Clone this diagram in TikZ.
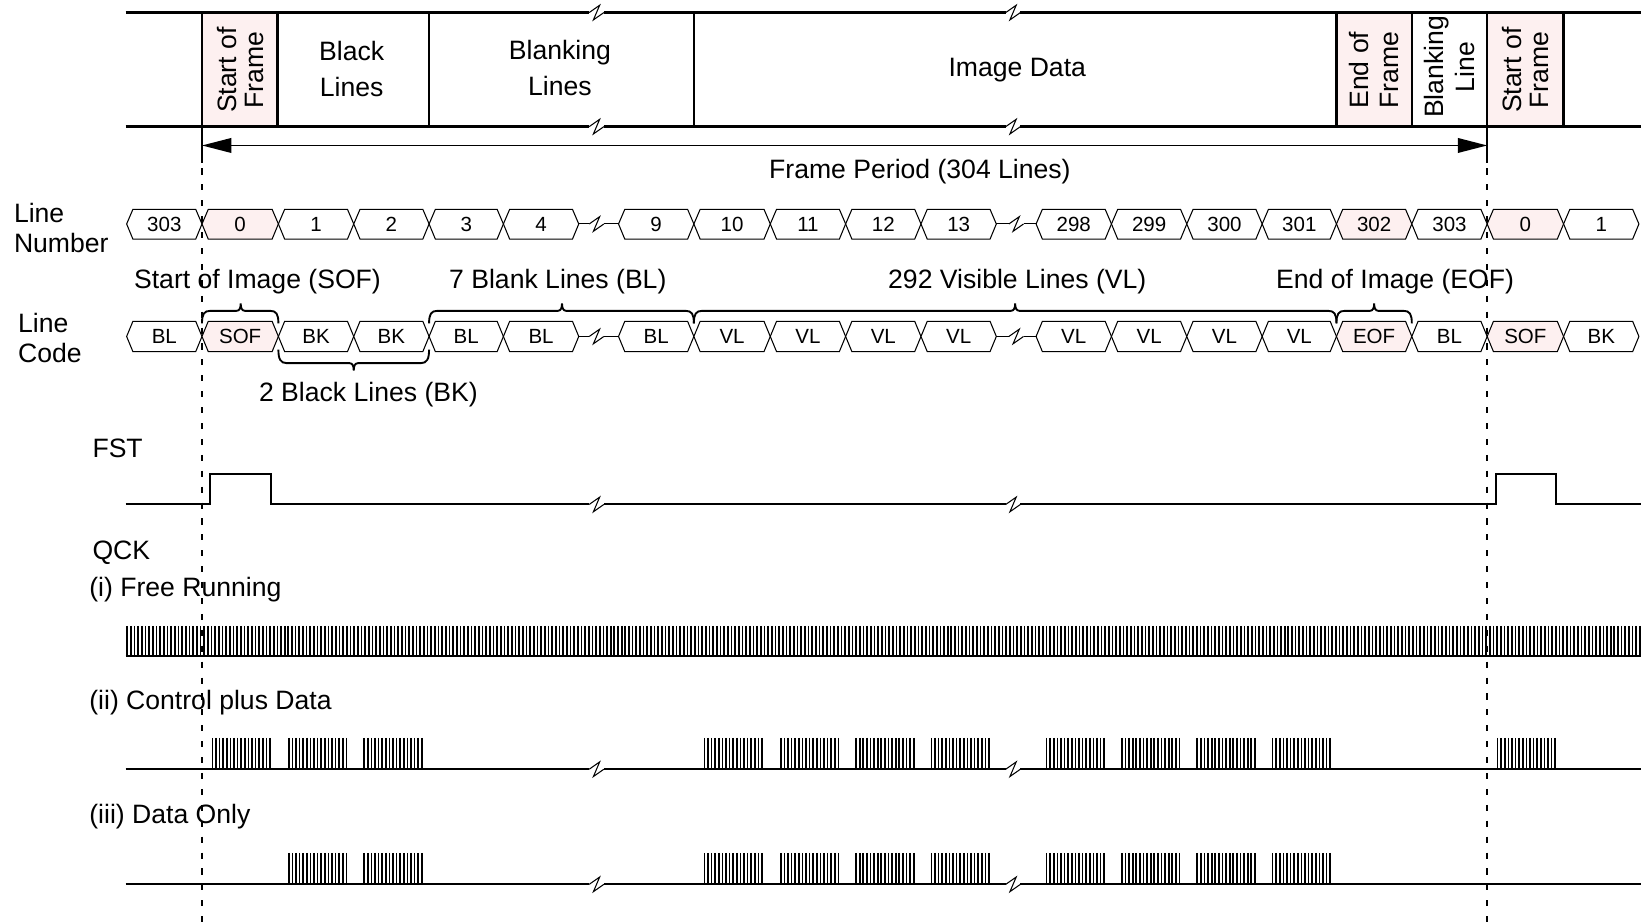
\documentclass[tikz,border=0pt]{standalone}
\usepackage{fontspec}
\setmainfont{Liberation Sans}
\usepackage{xcolor}
\usepackage{tikz}
\usetikzlibrary{arrows.meta, calc}

\definecolor{sofpink}{RGB}{253,240,240}

\begin{document}
\begin{tikzpicture}[
    x=0.5pt, y=-0.5pt,
    >={Triangle[length=14pt,width=7pt]},
    frame/.style={line width=1.15pt},
    hexcell/.style={line width=0.5pt},
    wave/.style={line width=1pt},
    tick/.style={line width=0.8pt},
    brace/.style={line width=0.9pt},
    marker/.style={line width=1pt, dash pattern=on 2.9pt off 4.7pt},
    lbl/.style={font=\fontsize{12.7}{14}\selectfont, inner sep=0pt},
    celltxt/.style={font=\fontsize{9.8}{11}\selectfont, inner sep=0pt},
    brk/.pic={\draw[line width=0.5pt] (-7,0) -- (3,-7) -- (-3,7) -- (7,0);}
]
\useasboundingbox (0,0) rectangle (1568,882);

% === 帧结构 ===
\fill[sofpink] (193,12) rectangle (265,121);
\fill[sofpink] (1277,12) rectangle (1349,121);
\fill[sofpink] (1421,12) rectangle (1494,121);
\foreach \y in {12,121} {
    \draw[frame] (120,\y) -- (563,\y);
    \draw[frame] (577,\y) -- (961,\y);
    \draw[frame] (975,\y) -- (1568,\y);
    \pic at (570,\y) {brk};
    \pic at (968,\y) {brk};
}
\foreach \x in {193,265,410,663,1277,1349,1421,1494}
    \draw[frame] (\x,12) -- (\x,121);

\node[lbl, rotate=90, align=center, font=\fontsize{12.7}{13}\selectfont] (sofa) at (230,67) {Start of\\Frame};
\node[lbl, align=center, font=\fontsize{12.7}{17.5}\selectfont] (blk) at (336,66) {Black\\Lines};
\node[lbl, align=center, font=\fontsize{12.7}{17.5}\selectfont] (blank) at (535,65) {Blanking\\Lines};
\node[lbl] (img) at (972,67) {Image Data};
\node[lbl, rotate=90, align=center, font=\fontsize{12.7}{14}\selectfont] (eofa) at (1313,67) {End of\\Frame};
\node[lbl, rotate=90, align=center, font=\fontsize{12.7}{15}\selectfont] (blkl) at (1385,64) {Blanking\\Line};
\node[lbl, rotate=90, align=center, font=\fontsize{12.7}{13}\selectfont] (sofb) at (1458,67) {Start of\\Frame};

% === 帧周期 ===
\coordinate (fpl) at (193,139);
\coordinate (fpr) at (1421,139);
\draw[<->, line width=0.7pt] (fpl) -- (fpr);
\node[lbl] (fper) at (879,164) {Frame Period (304 Lines)};

% === 帧起点标记（虚线）===
\foreach \x in {193,1421} {
    \draw[frame] (\x,121) -- (\x,156);
    \draw[marker] (\x,161) -- (\x,882);
}

% === 行号 ===
\node[lbl, align=left, anchor=west] (lnum) at (13,218) {Line\\Number};
\foreach \a/\b/\t/\c [count=\i] in {121/193/303/white, 193/266/0/sofpink,
    266/338/1/white, 338/410/2/white, 410/481/3/white, 481/553/4/white,
    591/663/9/white, 663/736/10/white, 736/808/11/white, 808/880/12/white,
    880/952/13/white, 990/1062/298/white, 1062/1134/299/white,
    1134/1206/300/white, 1206/1277/301/white, 1277/1349/302/sofpink,
    1349/1421/303/white, 1421/1494/0/sofpink, 1494/1566/1/white} {
    \filldraw[hexcell, fill=\c] (\a,214) -- (\a+6,200) -- (\b-6,200)
        -- (\b,214) -- (\b-6,228.5) -- (\a+6,228.5) -- cycle;
    \node[celltxt] (num\i) at ({(\a+\b)/2},214.5) {\t};
}

% === 行代码 ===
\node[lbl, align=left, anchor=west] (lcode) at (17,323) {Line\\Code};
\foreach \a/\b/\t/\c [count=\i] in {121/193/BL/white, 193/266/SOF/sofpink,
    266/338/BK/white, 338/410/BK/white, 410/481/BL/white, 481/553/BL/white,
    591/663/BL/white, 663/736/VL/white, 736/808/VL/white, 808/880/VL/white,
    880/952/VL/white, 990/1062/VL/white, 1062/1134/VL/white,
    1134/1206/VL/white, 1206/1277/VL/white, 1277/1349/EOF/sofpink,
    1349/1421/BL/white, 1421/1494/SOF/sofpink, 1494/1566/BK/white} {
    \filldraw[hexcell, fill=\c] (\a,321.5) -- (\a+6,307) -- (\b-6,307)
        -- (\b,321.5) -- (\b-6,336) -- (\a+6,336) -- cycle;
    \node[celltxt] (code\i) at ({(\a+\b)/2},321.5) {\t};
}

% 省略段
\foreach \y in {214,321.5} {
    \draw[hexcell] (553,\y) -- (563,\y);
    \draw[hexcell] (577,\y) -- (591,\y);
    \pic at (570,\y) {brk};
    \draw[hexcell] (952,\y) -- (964,\y);
    \draw[hexcell] (978,\y) -- (990,\y);
    \pic at (971,\y) {brk};
}

% === 大括号 ===
\foreach \a/\m/\b in {193/230/266, 410/537/663, 663/970/1277, 1277/1313/1349}
    \draw[brace] (\a,309) .. controls (\a,300) and (\a+2,297) .. (\a+8,297)
        -- (\m-4,297) .. controls (\m-1,297) and (\m,294) .. (\m,290)
        .. controls (\m,294) and (\m+1,297) .. (\m+4,297)
        -- (\b-8,297) .. controls (\b-2,297) and (\b,300) .. (\b,309);
\draw[brace] (266,334) .. controls (266,343) and (268,347) .. (274,347)
    -- (334,347) .. controls (337,347) and (338,350) .. (338,354)
    .. controls (338,350) and (339,347) .. (342,347)
    -- (402,347) .. controls (408,347) and (410,343) .. (410,334);

\node[lbl] (sofl) at (246,269) {Start of Image (SOF)};
\node[lbl] (bll) at (533,269) {7 Blank Lines (BL)};
\node[lbl] (vll) at (972,269) {292 Visible Lines (VL)};
\node[lbl] (eofl) at (1333,269) {End of Image (EOF)};
\node[lbl] (bkl) at (352,377) {2 Black Lines (BK)};

% === FST ===
\node[lbl, anchor=west] (fst) at (88,428) {FST};
\draw[wave] (120,482) -- (201,482) -- (201,453) -- (259,453) -- (259,482) -- (563,482);
\draw[wave] (577,482) -- (961,482);
\draw[wave] (975,482) -- (1429,482) -- (1429,453) -- (1487,453) -- (1487,482) -- (1568,482);
\pic at (570,482) {brk};
\pic at (968,482) {brk};

% === QCK (i) 自由运行 ===
\node[lbl, anchor=west] (qck) at (88,528) {QCK};
\node[lbl, anchor=west] (qfree) at (85,563) {(i) Free Running};
\draw[wave] (120,627) -- (1568,627);
\foreach \x in {121.5,125,...,1567}
    \draw[tick] (\x,598) -- (\x,627);

% === QCK (ii) 控制加数据 ===
\node[lbl, anchor=west] (qctl) at (85,671) {(ii) Control plus Data};
\draw[wave] (120,735) -- (563,735);
\draw[wave] (577,735) -- (961,735);
\draw[wave] (975,735) -- (1568,735);
\pic at (570,735) {brk};
\pic at (968,735) {brk};
\foreach \s in {193,266,338,663,736,808,880,990,1062,1134,1206,1421}
    \foreach \k in {0,...,16}
        \draw[tick] ({\s+10+\k*3.44},705) -- ({\s+10+\k*3.44},735);

% === QCK (iii) 仅数据 ===
\node[lbl, anchor=west] (qdat) at (85,780) {(iii) Data Only};
\draw[wave] (120,845) -- (563,845);
\draw[wave] (577,845) -- (961,845);
\draw[wave] (975,845) -- (1568,845);
\pic at (570,845) {brk};
\pic at (968,845) {brk};
\foreach \s in {266,338,663,736,808,880,990,1062,1134,1206}
    \foreach \k in {0,...,16}
        \draw[tick] ({\s+10+\k*3.44},815) -- ({\s+10+\k*3.44},845);

\end{tikzpicture}
\end{document}
